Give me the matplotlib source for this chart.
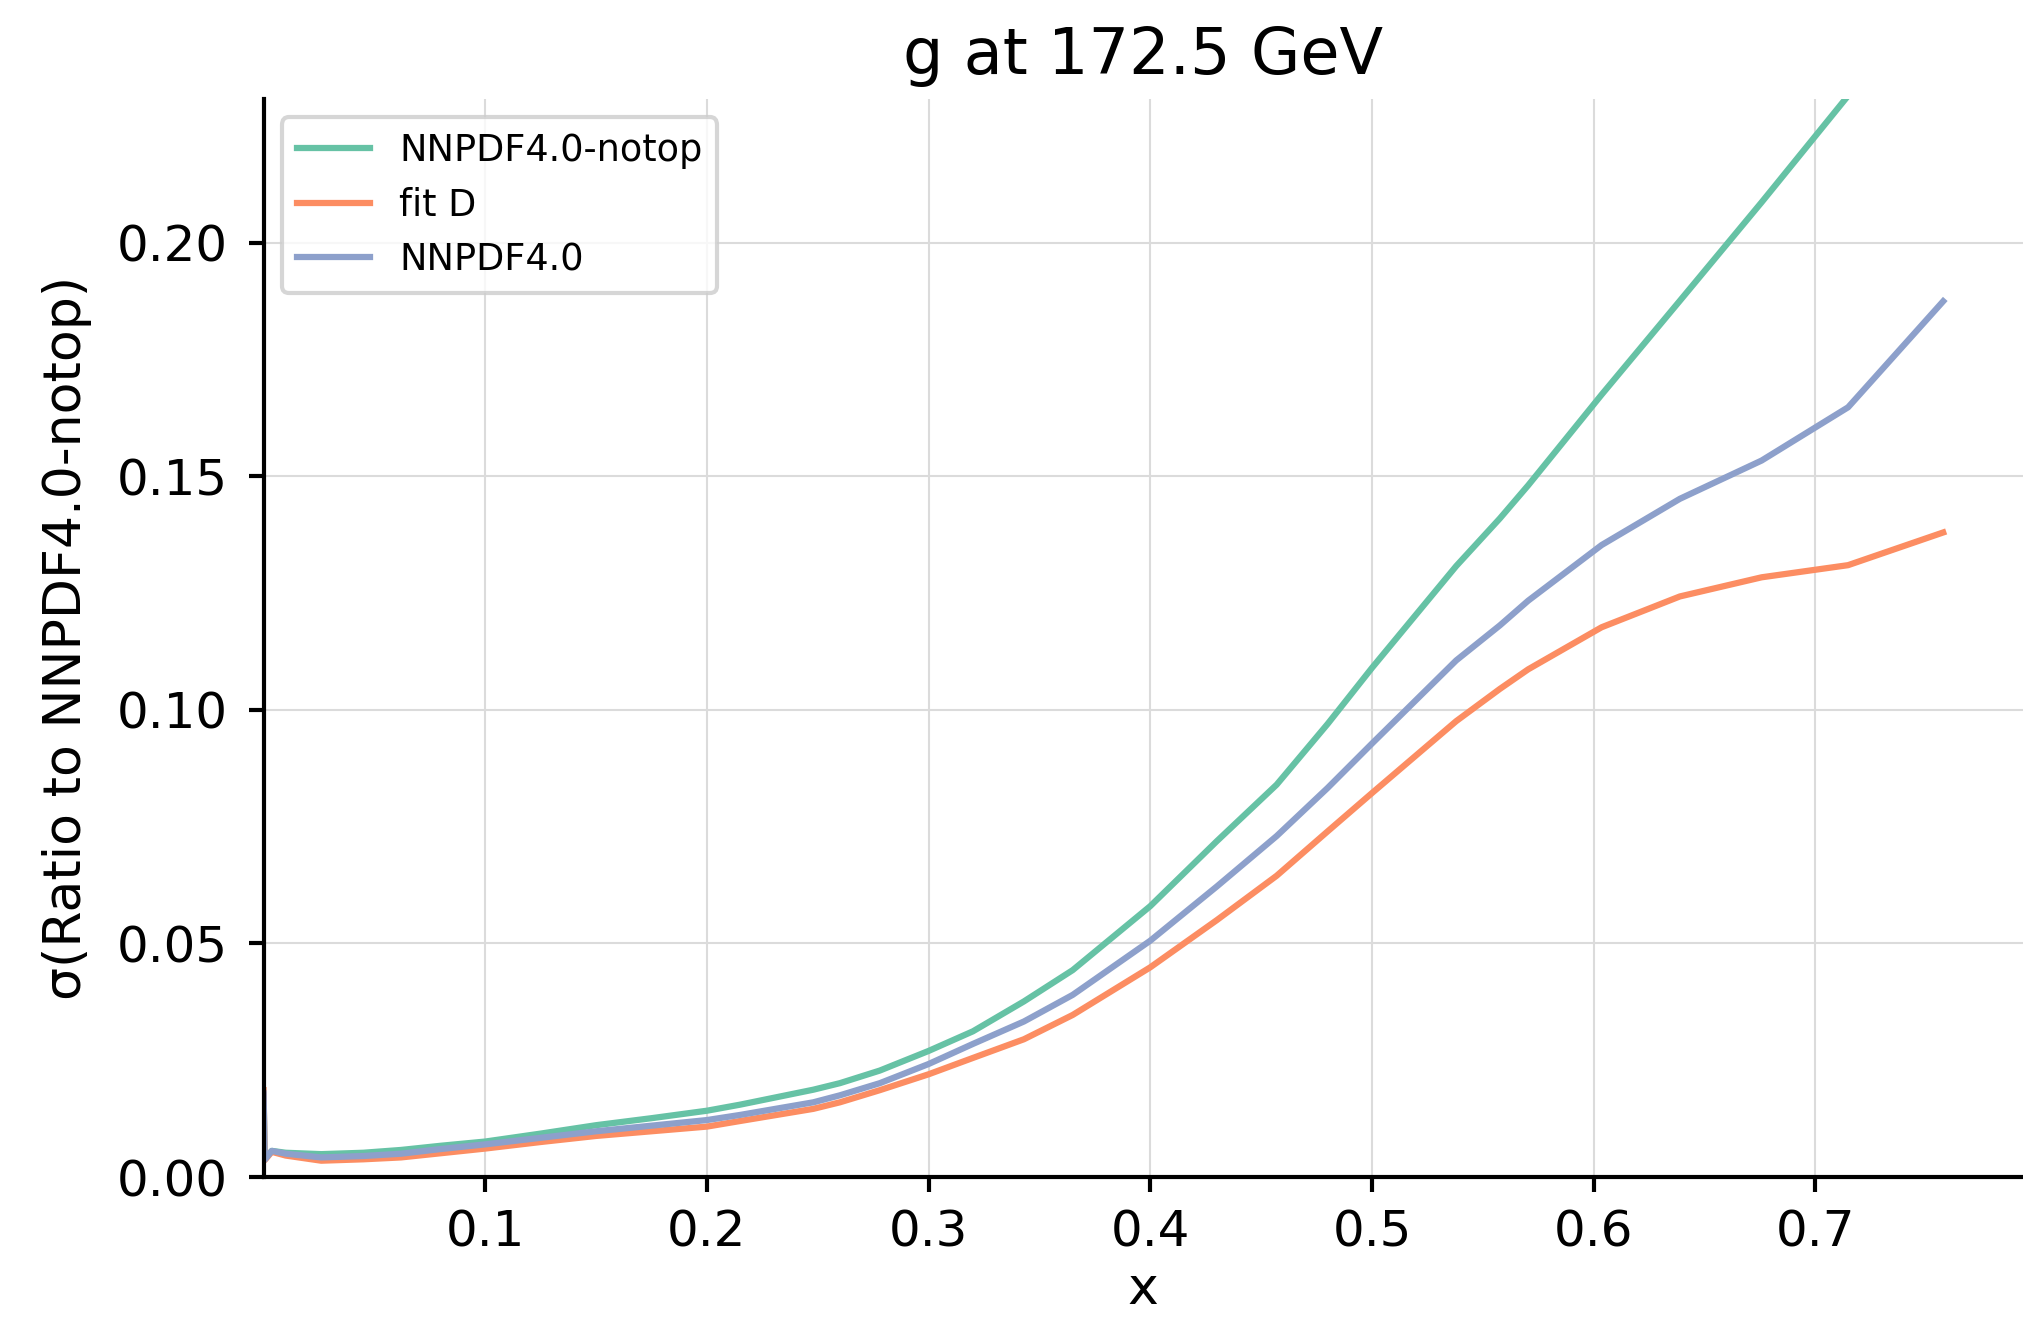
import numpy as np
import matplotlib.pyplot as plt

# x grid and sigma ratios
x = [1e-5, 0.0005, 0.0037, 0.01, 0.026, 0.045, 0.062, 0.08, 0.1, 0.125,
     0.15, 0.175, 0.2, 0.215, 0.248, 0.26, 0.278, 0.3, 0.32, 0.343,
     0.365, 0.4, 0.43, 0.457, 0.48, 0.5, 0.538, 0.5577, 0.5705, 0.6036,
     0.6389, 0.6758, 0.7148, 0.7577]

notop = [0.0175, 0.0040, 0.0056, 0.0052, 0.0049, 0.0052, 0.0058, 0.0067, 0.0076, 0.0093,
         0.0111, 0.0126, 0.0142, 0.0155, 0.0187, 0.0201, 0.0228, 0.0270, 0.0312, 0.0376,
         0.0443, 0.0580, 0.0719, 0.0840, 0.0970, 0.1090, 0.1308, 0.1410, 0.1481, 0.1675,
         0.1876, 0.2087, 0.2315, 0.2560]

fit_d = [0.0186, 0.0036, 0.0054, 0.0046, 0.0035, 0.0038, 0.0042, 0.0051, 0.0061, 0.0075,
         0.0088, 0.0098, 0.0108, 0.0120, 0.0146, 0.0160, 0.0186, 0.0220, 0.0255, 0.0295,
         0.0347, 0.0449, 0.0550, 0.0645, 0.0740, 0.0822, 0.0976, 0.1045, 0.1087, 0.1177,
         0.1243, 0.1284, 0.1310, 0.1380]

nnpdf40 = [0.0179, 0.0037, 0.0056, 0.0050, 0.0042, 0.0045, 0.0050, 0.0060, 0.0070, 0.0084,
           0.0098, 0.0110, 0.0122, 0.0133, 0.0160, 0.0175, 0.0201, 0.0242, 0.0285, 0.0333,
           0.0390, 0.0506, 0.0622, 0.0730, 0.0833, 0.0928, 0.1106, 0.1181, 0.1234, 0.1353,
           0.1452, 0.1534, 0.1648, 0.1875]

labels = ['NNPDF4.0-notop', 'fit D', 'NNPDF4.0']
colors = ['#66c2a5', '#fc8d62', '#8da0cb']


def main():
    fig = plt.figure(figsize=(2023 / 300, 1320 / 300), dpi=300)
    ax = fig.add_axes([0.1303, 0.1083, 0.8697, 0.8167])

    for ys, lab, c in zip([notop, fit_d, nnpdf40], labels, colors):
        ax.plot(x, ys, color=c, lw=1.5, label=lab)

    ax.set_xlim(x[0], 0.7937)
    ax.set_ylim(0, 0.2308)
    ax.grid(True, color='0.86', lw=0.5)
    ax.set_axisbelow(True)
    for side in ['top', 'right']:
        ax.spines[side].set_visible(False)
    for side in ['left', 'bottom']:
        ax.spines[side].set_linewidth(1.0)
    ax.tick_params(labelsize=12, width=1.0, length=3.6)
    ax.tick_params(axis='y', pad=5)
    ax.tick_params(axis='x', pad=4)

    ax.set_title('g at 172.5 GeV', fontsize=15.3, pad=6)
    ax.set_xlabel('x', fontsize=12.5, labelpad=2)
    ax.set_ylabel('σ(Ratio to NNPDF4.0-notop)', fontsize=12.5, labelpad=6)

    leg = ax.legend(loc='upper left', fontsize=8.8, labelspacing=0.48, borderpad=0.4)
    leg.get_frame().set_linewidth(1.0)

    fig.savefig('out.png', dpi=300)


if __name__ == '__main__':
    main()
